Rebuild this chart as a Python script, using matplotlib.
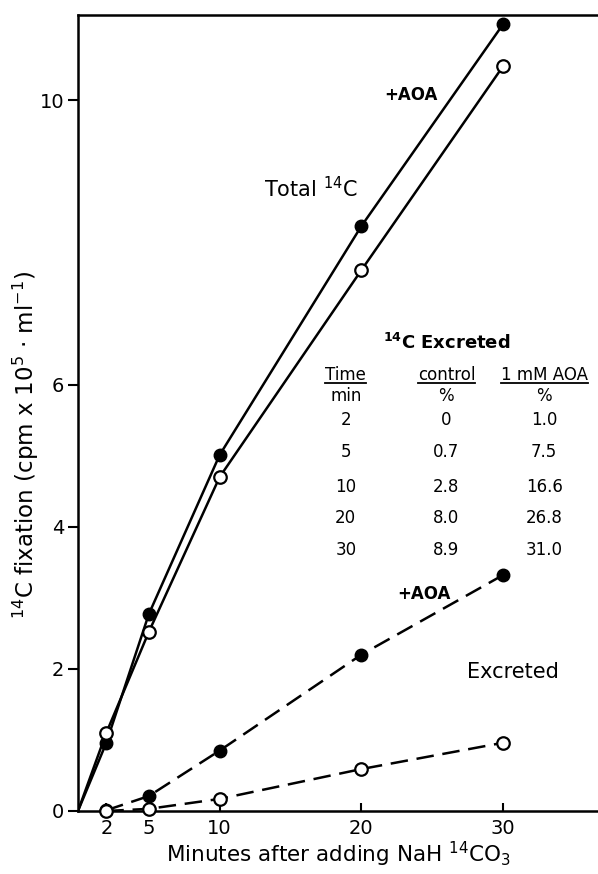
import matplotlib
matplotlib.use("Agg")
import matplotlib.pyplot as plt
from matplotlib.lines import Line2D

plt.rcParams['font.family'] = ['DejaVu Sans']
plt.rcParams['mathtext.default'] = 'regular'

minutes = [2, 5, 10, 20, 30]
total_aoa = [0.96, 2.77, 5.01, 8.23, 11.07]
total_ctrl = [1.10, 2.52, 4.70, 7.61, 10.48]
exc_aoa = [0.01, 0.21, 0.85, 2.20, 3.32]
exc_ctrl = [0.0, 0.03, 0.17, 0.59, 0.96]

table_time = ["2", "5", "10", "20", "30"]
table_ctrl = ["0", "0.7", "2.8", "8.0", "8.9"]
table_aoa = ["1.0", "7.5", "16.6", "26.8", "31.0"]

xticks = [2, 5, 10, 20, 30]
yticks = [0, 2, 4, 6, 10]

fig = plt.figure(figsize=(5.98, 8.74), dpi=100)
ax = fig.add_axes([0.1304, 0.0721, 0.8696, 0.9107])
ax.set_xlim(0, 36.7)
ax.set_ylim(0, 11.2)

lw = 1.8
ms = 9
ax.plot([0] + minutes, [0] + total_aoa, '-', color='black', lw=lw)
ax.plot([0] + minutes, [0] + total_ctrl, '-', color='black', lw=lw)
ax.plot(minutes, total_aoa, 'o', color='black', ms=ms, mfc='black', mec='black', zorder=5)
ax.plot(minutes, total_ctrl, 'o', color='black', ms=ms, mfc='white', mec='black', mew=1.6, zorder=5)

ax.plot(minutes, exc_aoa, '--', color='black', lw=lw, dashes=(7, 3.5))
ax.plot(minutes, exc_ctrl, '--', color='black', lw=lw, dashes=(7, 3.5))
ax.plot(minutes, exc_aoa, 'o', ms=ms, mfc='black', mec='black', zorder=5, clip_on=False)
ax.plot(minutes, exc_ctrl, 'o', ms=ms, mfc='white', mec='black', mew=1.6, zorder=5, clip_on=False)

for s in ['left', 'bottom', 'top']:
    ax.spines[s].set_linewidth(1.8)
ax.spines['right'].set_visible(False)

ax.set_xticks(xticks)
ax.set_xticklabels([str(t) for t in xticks], fontsize=14)
ax.set_yticks(yticks)
ax.set_yticklabels([str(t) for t in yticks], fontsize=14)
ax.tick_params(axis='x', direction='in', length=6, width=1.5, pad=6)
ax.tick_params(axis='y', direction='out', length=7, width=1.5, pad=3)

ax.set_xlabel("Minutes after adding NaH $^{14}$CO$_3$", fontsize=15.5, labelpad=1)
ax.set_ylabel("$^{14}$C fixation (cpm x 10$^5$ · ml$^{-1}$)", fontsize=16.5)
ax.yaxis.set_label_coords(-0.072, 0.46)

ax.text(23.5, 10.07, "+AOA", fontsize=12, fontweight='bold', ha='center', va='center')
ax.text(16.4, 8.76, "Total $^{14}$C", fontsize=15, ha='center', va='center')
ax.text(24.4, 3.06, "+AOA", fontsize=12, fontweight='bold', ha='center', va='center')
ax.text(30.7, 1.96, "Excreted", fontsize=15, ha='center', va='center')

# table
ax.text(26.0, 6.59, "$^{14}$C Excreted", fontsize=13, fontweight='bold', ha='center', va='center')
cols_x = [18.9, 26.0, 32.9]
hdr1 = ["Time", "control", "1 mM AOA"]
hdr2 = ["min", "%", "%"]
hdr_texts = []
for cx, h1, h2 in zip(cols_x, hdr1, hdr2):
    t = ax.text(cx, 6.14, h1, fontsize=12, ha='center', va='center')
    hdr_texts.append(t)
    ax.text(cx, 5.84, h2, fontsize=12, ha='center', va='center')
row_y = [5.5, 5.05, 4.56, 4.12, 3.67]
for ry, a, b, c in zip(row_y, table_time, table_ctrl, table_aoa):
    ax.text(cols_x[0], ry, a, fontsize=12, ha='center', va='center')
    ax.text(cols_x[1], ry, b, fontsize=12, ha='center', va='center')
    ax.text(cols_x[2], ry, c, fontsize=12, ha='center', va='center')

fig.canvas.draw()
r = fig.canvas.get_renderer()
for t in hdr_texts:
    bb = t.get_window_extent(r)
    y = bb.y0 + 1
    fig.add_artist(Line2D([bb.x0 / fig.bbox.width, bb.x1 / fig.bbox.width],
                          [y / fig.bbox.height, y / fig.bbox.height],
                          color='black', lw=1.3))

fig.savefig("out.png", dpi=100)
